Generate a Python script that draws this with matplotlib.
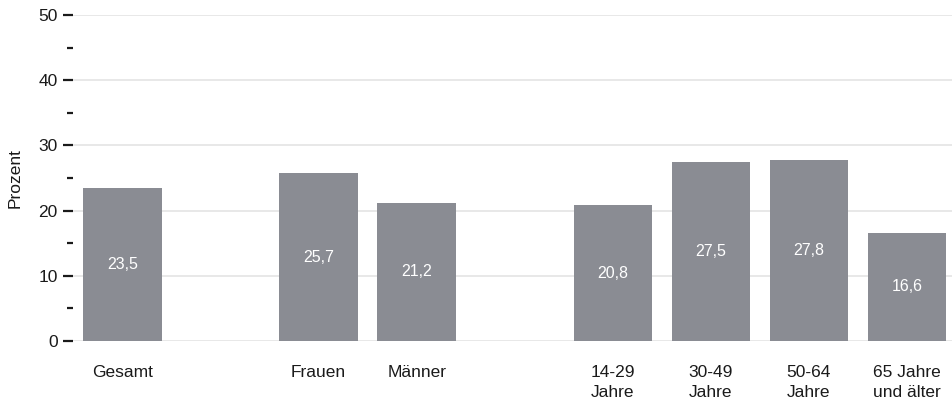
import matplotlib.pyplot as plt
from matplotlib.ticker import MultipleLocator

plt.rcParams['font.family'] = ['Liberation Sans', 'DejaVu Sans']

categories = ["Gesamt", "Frauen", "Männer", "14-29\nJahre", "30-49\nJahre", "50-64\nJahre", "65 Jahre\nund älter"]
positions = [0, 2, 3, 5, 6, 7, 8]
values = [23.5, 25.7, 21.2, 20.8, 27.5, 27.8, 16.6]
value_labels = ["23,5", "25,7", "21,2", "20,8", "27,5", "27,8", "16,6"]

fig = plt.figure(figsize=(9.52, 4.07), dpi=100)
ax = fig.add_axes([73/952, 1 - 341/407, 1 - 73/952, (341 - 15)/407])

bar_color = "#8a8c93"
bars = ax.bar(positions, values, width=0.8, color=bar_color, zorder=2)
for b, lab in zip(bars, value_labels):
    ax.text(b.get_x() + b.get_width()/2, b.get_height()/2, lab,
            ha="center", va="center", color="white", fontsize=11.5, zorder=3)

ax.set_xlim(-0.505, 8.46)
ax.set_ylim(0, 50)
ax.yaxis.set_major_locator(MultipleLocator(10))
ax.yaxis.set_minor_locator(MultipleLocator(5))
ax.grid(axis="y", which="major", color="#e6e6e6", linewidth=1.3, zorder=0)
ax.set_axisbelow(True)

ax.set_xticks(positions)
ax.set_xticklabels(categories, fontsize=12.5, color="#1a1a1a", linespacing=1.45)
ax.tick_params(axis="x", length=0, pad=17)
ax.tick_params(axis="y", which="major", length=7, width=1.6, color="#1a1a1a",
               labelsize=12.5, labelcolor="#1a1a1a", pad=4)
ax.tick_params(axis="y", which="minor", length=4, width=1.6, color="#1a1a1a")

for s in ax.spines.values():
    s.set_visible(False)

ax.set_ylabel("Prozent", fontsize=12.5, color="#1a1a1a", labelpad=11)

fig.savefig("out.png", dpi=100)
